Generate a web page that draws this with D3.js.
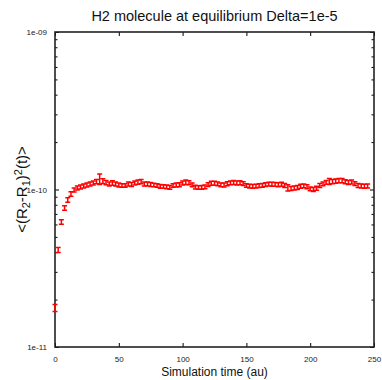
<!DOCTYPE html>
<html>
<head>
<meta charset="utf-8">
<script src="https://cdn.jsdelivr.net/npm/d3@7"></script>
<style>
  body { margin: 0; background: #fff; }
  svg { display: block; }
  text { font-family: "Liberation Sans Narrow", "Liberation Sans", Arial, sans-serif; }
</style>
</head>
<body>
<div class="chart"></div>
<script>
// simulation time (au), one sample every 2.5 au
const times = d3.range(0, 247.5, 2.5);

// <(R2-R1)^2(t)> in units of 1e-10
const msd = [
  0.177, 0.413, 0.622, 0.763, 0.858, 0.936, 0.993, 1.022, 1.037, 1.052,
  1.068, 1.084, 1.100, 1.124, 1.166, 1.132, 1.107, 1.084, 1.100, 1.084,
  1.068, 1.060, 1.060, 1.084, 1.076, 1.100, 1.116, 1.124, 1.084, 1.084,
  1.076, 1.068, 1.060, 1.048, 1.045, 1.040, 1.033, 1.060, 1.068, 1.072,
  1.100, 1.112, 1.105, 1.070, 1.035, 1.030, 1.033, 1.040, 1.075, 1.098,
  1.095, 1.085, 1.070, 1.068, 1.090, 1.102, 1.108, 1.100, 1.104, 1.090,
  1.060, 1.052, 1.048, 1.050, 1.058, 1.062, 1.075, 1.082, 1.080, 1.078,
  1.072, 1.080, 1.060, 1.025, 1.015, 1.022, 1.030, 1.050, 1.055, 1.040,
  1.010, 1.000, 1.020, 1.060, 1.085, 1.110, 1.125, 1.122, 1.132, 1.140,
  1.138, 1.120, 1.108, 1.115, 1.090, 1.060, 1.052, 1.050, 1.052
];

// error bar half-heights, same units
const msdErr = [
  0.009, 0.015, 0.020, 0.025, 0.028, 0.030, 0.030, 0.030, 0.030, 0.030,
  0.030, 0.030, 0.032, 0.035, 0.090, 0.040, 0.035, 0.030, 0.035, 0.030,
  0.030, 0.028, 0.028, 0.030, 0.030, 0.032, 0.035, 0.035, 0.030, 0.030,
  0.030, 0.028, 0.028, 0.028, 0.028, 0.028, 0.028, 0.028, 0.030, 0.030,
  0.032, 0.035, 0.032, 0.030, 0.028, 0.028, 0.028, 0.028, 0.030, 0.032,
  0.032, 0.030, 0.030, 0.030, 0.032, 0.032, 0.032, 0.032, 0.032, 0.030,
  0.028, 0.028, 0.028, 0.028, 0.028, 0.030, 0.030, 0.030, 0.030, 0.030,
  0.030, 0.030, 0.030, 0.045, 0.030, 0.030, 0.030, 0.030, 0.030, 0.030,
  0.028, 0.028, 0.030, 0.030, 0.030, 0.032, 0.050, 0.035, 0.035, 0.035,
  0.035, 0.032, 0.032, 0.032, 0.030, 0.030, 0.030, 0.030, 0.030
];

const xTicks = [0, 50, 100, 150, 200, 250];
const yTicks = [1e-11, 1e-10, 1e-9];
const yTickLabels = ["1e-11", "1e-10", "1e-09"];

var cfg = {
  width: 382,
  height: 380,
  margin: {top: 32, right: 8, bottom: 33, left: 55}
};

var scale = {
  x: d3.scaleLinear()
    .domain([0, 250])
    .range([cfg.margin.left, cfg.width - cfg.margin.right]),
  y: d3.scaleLog()
    .domain([1e-11, 1e-9])
    .range([cfg.height - cfg.margin.bottom, cfg.margin.top])
};

var svg = d3.select(".chart").append("svg")
  .attr("width", cfg.width)
  .attr("height", cfg.height);

var x0 = scale.x.range()[0], x1 = scale.x.range()[1];
var y0 = scale.y.range()[0], y1 = scale.y.range()[1];

// minor ticks on log axis (2..9 per decade)
var minor = [];
[1e-11, 1e-10].forEach(d => { for (let k = 2; k < 10; k++) minor.push(d * k); });

// x axis (bottom, ticks inward) + mirrored top
let xAxis = svg.append("g")
  .attr("transform", `translate(0,${y0})`)
  .call(d3.axisBottom(scale.x).tickValues(xTicks).tickSize(-4).tickPadding(9).tickFormat(d3.format("d")));
xAxis.select(".domain").remove();
xAxis.selectAll("text").style("font-size", "8px").style("fill", "#222");

let xTop = svg.append("g")
  .attr("transform", `translate(0,${y1})`)
  .call(d3.axisTop(scale.x).tickValues(xTicks).tickSize(-4).tickFormat(""));
xTop.select(".domain").remove();

// y axis (left, major + minor inward) + mirrored right
let yAxis = svg.append("g")
  .attr("transform", `translate(${x0},0)`)
  .call(d3.axisLeft(scale.y).tickValues(yTicks).tickSize(-4).tickPadding(8)
    .tickFormat((d, i) => yTickLabels[i]));
yAxis.select(".domain").remove();
yAxis.selectAll("text").style("font-size", "8px").style("fill", "#222");

svg.append("g")
  .attr("transform", `translate(${x0},0)`)
  .call(d3.axisLeft(scale.y).tickValues(minor).tickSize(-2.5).tickFormat(""))
  .select(".domain").remove();

svg.append("g")
  .attr("transform", `translate(${x1},0)`)
  .call(d3.axisRight(scale.y).tickValues(yTicks).tickSize(-4).tickFormat(""))
  .select(".domain").remove();
svg.append("g")
  .attr("transform", `translate(${x1},0)`)
  .call(d3.axisRight(scale.y).tickValues(minor).tickSize(-2.5).tickFormat(""))
  .select(".domain").remove();

// frame
svg.append("rect")
  .attr("x", x0).attr("y", y1)
  .attr("width", x1 - x0).attr("height", y0 - y1)
  .attr("fill", "none")
  .attr("stroke", "#222")
  .attr("stroke-width", 1.6);

// error bars
var pts = times.map((t, i) => ({t: t, v: msd[i] * 1e-10, e: msdErr[i] * 1e-10}));
var capW = 2.5;
var bars = svg.append("g")
  .attr("stroke", "#ff0000")
  .attr("stroke-width", 1.5)
  .attr("fill", "none");

bars.selectAll("path")
  .data(pts)
  .enter().append("path")
  .attr("d", d => {
    let x = scale.x(d.t);
    let ya = scale.y(d.v - d.e), yb = scale.y(d.v + d.e);
    return `M${x},${ya}V${yb}` +
      `M${x - capW},${ya}H${x + capW}` +
      `M${x - capW},${yb}H${x + capW}`;
  });

// title
svg.append("text")
  .attr("x", (x0 + x1) / 2)
  .attr("y", 21)
  .attr("text-anchor", "middle")
  .style("font-size", "14.5px")
  .style("fill", "#111")
  .text("H2 molecule at equilibrium Delta=1e-5");

// x label
svg.append("text")
  .attr("x", (x0 + x1) / 2)
  .attr("y", 376)
  .attr("text-anchor", "middle")
  .style("font-size", "12px")
  .style("fill", "#111")
  .text("Simulation time (au)");

// y label with sub/superscripts
var yl = svg.append("text")
  .attr("transform", `translate(27,${(y0 + y1) / 2}) rotate(-90)`)
  .attr("text-anchor", "middle")
  .style("font-size", "15px")
  .style("fill", "#111");
yl.append("tspan").text("<(R");
yl.append("tspan").attr("baseline-shift", "-25%").style("font-size", "11px").text("2");
yl.append("tspan").text("-R");
yl.append("tspan").attr("baseline-shift", "-25%").style("font-size", "11px").text("1");
yl.append("tspan").text(")");
yl.append("tspan").attr("baseline-shift", "45%").style("font-size", "11px").text("2");
yl.append("tspan").text("(t)>");
</script>
</body>
</html>
